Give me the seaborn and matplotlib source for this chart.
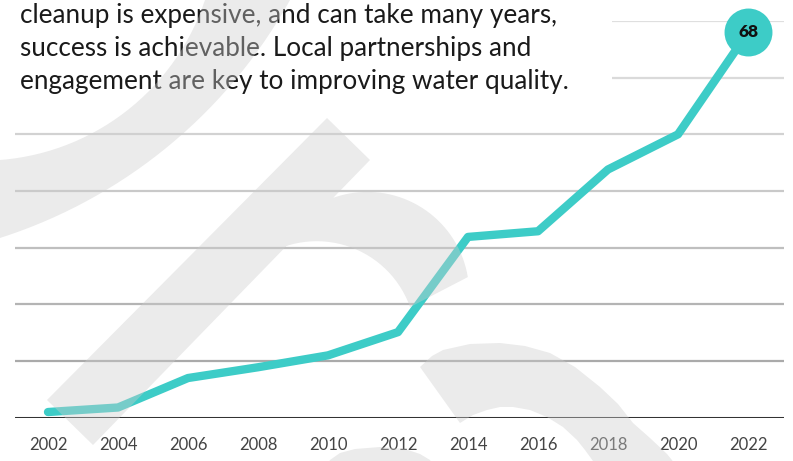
import numpy as np
import pandas as pd
import matplotlib
matplotlib.use("Agg")
import matplotlib.pyplot as plt
import seaborn as sns
from matplotlib.path import Path
from matplotlib.patches import PathPatch, Rectangle

# ---- data ----
years = [2002, 2004, 2006, 2008, 2010, 2012, 2014, 2016, 2018, 2020, 2022]
values = [1.0, 1.8, 7.0, 8.9, 11.0, 15.1, 31.9, 32.9, 43.8, 50.0, 68]
gridlevels = [10, 20, 30, 40, 50, 60, 70]
grid_colors = ["#aaaaaa", "#b4b4b4", "#bfbfbf", "#c9c9c9", "#d2d2d2", "#dadada", "#dfdfdf"]
caption = ["cleanup is expensive, and can take many years,",
           "success is achievable. Local partnerships and",
           "engagement are key to improving water quality."]
last_label = "68"

TEAL = "#3DCCC7"
W, H = 793, 461

sns.set_style("white")
plt.rcParams["font.family"] = ["Lato", "DejaVu Sans"]

fig = plt.figure(figsize=(W / 100, H / 100), dpi=100)
fig.patch.set_facecolor("white")

# main axes: x from 15px to 784px, y 0 at 417.7px, 70 at 21px
ax_left, ax_right = 15, 784
y0_px, y70_px = 417.7, 21.0
ax = fig.add_axes([ax_left / W, (H - y0_px) / H, (ax_right - ax_left) / W, (y0_px - y70_px) / H])
ax.set_zorder(0)
ax.patch.set_alpha(0)

df = pd.DataFrame({"year": years, "value": values})
for lev, col in zip(gridlevels, grid_colors):
    ax.axhline(lev, color=col, lw=1.6, zorder=1)
ax.axhline(0, color="#333333", lw=2.2, zorder=2)

sns.lineplot(data=df, x="year", y="value", ax=ax, color=TEAL, lw=6.0,
             solid_joinstyle="round", solid_capstyle="round", zorder=3)
ax.plot([years[-1]], [values[-1]], "o", ms=34.5, color=TEAL, mec="none", clip_on=False, zorder=4)
ax.text(years[-1], values[-1], last_label, ha="center", va="center", fontsize=12.5,
        fontweight="heavy", color="#111111", zorder=5, clip_on=False)

ax.set_xlim(2002 - 33 / 35, 2022 + 36 / 35)
ax.set_ylim(0, 70)
ax.set_xticks(years)
ax.set_xticklabels([str(y) for y in years])
ax.set_yticks([])
ax.tick_params(axis="x", length=0, pad=14, labelsize=12, labelcolor="#444444")
for s in ax.spines.values():
    s.set_visible(False)
ax.set_xlabel("")
ax.set_ylabel("")

# white box behind caption
fig.patches.append(Rectangle((0, 1 - 105 / H), 612 / W, 105 / H, transform=fig.transFigure,
                             facecolor="white", edgecolor="none", zorder=1))

# caption text, fit width of second line to ~513px
renderer = fig.canvas.get_renderer()
fs = 16.0
t = fig.text(20 / W, 1 - 56 / H, caption[1], fontsize=fs)
wpx = t.get_window_extent(renderer).width
t.remove()
fs = fs * 513 / wpx
for line, base in zip(caption, [22.7, 56.0, 89.3]):
    fig.text(20 / W, 1 - base / H, line, fontsize=fs, color="#1a1a1a", va="baseline",
             ha="left", zorder=2)

# ---- decorative translucent background swooshes (drawn over everything) ----
ov = fig.add_axes([0, 0, 1, 1])
ov.set_zorder(3)
ov.set_xlim(0, W)
ov.set_ylim(H, 0)
ov.axis("off")
ov.patch.set_alpha(0)


def arc(cx, cy, r, a0, a1, n=40):
    a = np.radians(np.linspace(a0, a1, n))
    return list(zip(cx + r * np.cos(a), cy + r * np.sin(a)))


def orient(pts):
    p = np.array(pts)
    area = np.sum(p[:, 0] * np.roll(p[:, 1], -1) - np.roll(p[:, 0], -1) * p[:, 1])
    return p if area > 0 else p[::-1]


shapes = []
# top-left arc
shapes.append(arc(-18.1, -74.5, 235.2, 10, 95) + arc(-155.5, -247.2, 509.5, 78, 25))
# diagonal stroke
shapes.append([(47, 400), (93, 445), (370, 160), (327, 118)])
# hump (closes back through the stroke)
shapes.append(arc(367.4, 293.7, 101.8, -120, -9.4) + arc(316.7, 340.3, 99.1, -19.6, -150)
              + [(200, 320), (235, 240), (300, 203)])
# bottom arch
outer = [(420, 367), (432, 356), (443, 350), (470, 344), (500, 343), (525, 346), (550, 353),
         (575, 367), (600, 387), (618, 404), (633, 423), (650, 438), (667, 454), (680, 470)]
inner = [(600, 475), (593, 461), (585, 450), (577, 440), (563, 427), (547, 417), (530, 410),
         (513, 407), (500, 407), (487, 410), (473, 415), (460, 423)]
shapes.append(outer + inner)
# bottom bump
shapes.append([(322, 475), (330, 460), (340, 453), (355, 449), (380, 447), (405, 449),
               (420, 454), (430, 460), (438, 475)])

verts, codes = [], []
for s in shapes:
    p = orient(s)
    verts.extend(p.tolist())
    verts.append(p[0].tolist())
    codes.extend([Path.MOVETO] + [Path.LINETO] * (len(p) - 1) + [Path.CLOSEPOLY])
ov.add_patch(PathPatch(Path(verts, codes), facecolor="#cdcdcd", edgecolor="none", alpha=0.4))

fig.savefig("out.png", dpi=100)
